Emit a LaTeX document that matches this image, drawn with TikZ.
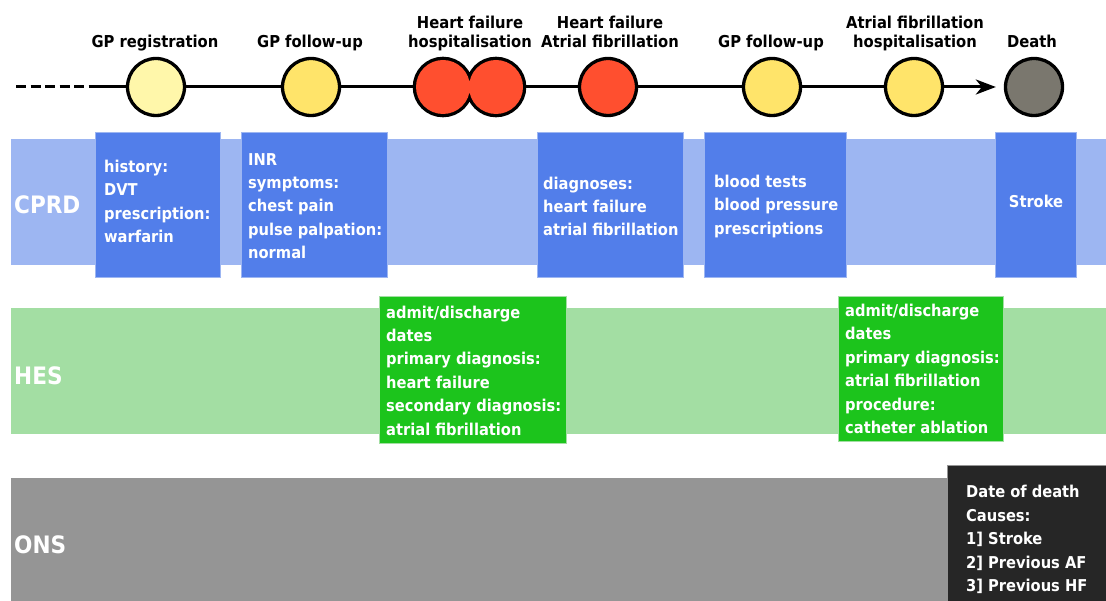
\documentclass[tikz,border=0pt]{standalone}
\usepackage{fontspec}
\setmainfont{DejaVu Sans Condensed}
\usetikzlibrary{arrows.meta}
\definecolor{bandblue}{HTML}{9DB6F2}
\definecolor{boxblue}{HTML}{527EEA}
\definecolor{bandgreen}{HTML}{A3DEA3}
\definecolor{boxgreen}{HTML}{1CC41C}
\definecolor{bandgray}{HTML}{959595}
\definecolor{boxdark}{HTML}{262626}
\definecolor{paleyel}{HTML}{FFF7AA}
\definecolor{yel}{HTML}{FFE46A}
\definecolor{evred}{HTML}{FF4F2F}
\definecolor{deathgray}{HTML}{7A776E}
\newcommand\myboxfont{\bfseries\fontsize{16.3}{23.4}\selectfont}
\newcommand\mylblfont{\bfseries\fontsize{16.4}{19.5}\selectfont}
\newcommand\mybandfont{\bfseries\fontsize{24}{28}\selectfont}
\tikzset{
  ev/.style={circle, draw=black, line width=3.3pt, minimum size=57pt, inner sep=0pt},
  evghost/.style={circle, minimum size=57pt, inner sep=0pt},
  tl/.style={line width=3pt, black},
  toplbl/.style={font=\mylblfont, align=center, anchor=base, inner sep=0pt},
  bandlbl/.style={font=\mybandfont, text=white, anchor=west, inner sep=0pt},
  databox/.style={rectangle, anchor=north west, line width=1pt, minimum height=145pt},
  bluebox/.style={databox, fill=boxblue, draw=bandblue},
  greenbox/.style={databox, fill=boxgreen, draw=bandgreen, minimum height=147pt},
  darkbox/.style={databox, fill=boxdark, draw=bandgray, minimum height=148pt},
  boxtext/.style={anchor=west, align=left, text=white, font=\myboxfont, inner sep=0pt}
}
\begin{document}
\begin{tikzpicture}[x=1pt,y=-1pt]
\clip (0,0) rectangle (1106,601);
\fill[white] (0,0) rectangle (1106,601);

% bands
\fill[bandblue] (11,139) rectangle (1106,265);
\fill[bandgreen] (11,308) rectangle (1106,434);
\fill[bandgray] (11,478) rectangle (1106,601);
\node[bandlbl] (tcprd) at (14,205) {CPRD};
\node[bandlbl] (thes) at (14,376) {HES};
\node[bandlbl] (tons) at (14,545) {ONS};

% CPRD boxes
\node[bluebox, minimum width=125pt] (b1) at (95,132) {};
\node[boxtext] (t1) at ([xshift=9pt,yshift=3.5pt]b1.west) {history:\\DVT\\prescription:\\warfarin};
\node[bluebox, minimum width=146pt] (b2) at (241,132) {};
\node[boxtext] (t2) at ([xshift=7pt,yshift=-1pt]b2.west) {INR\\symptoms:\\chest pain\\pulse palpation:\\normal};
\node[bluebox, minimum width=146pt] (b3) at (537,132) {};
\node[boxtext] (t3) at ([xshift=6pt,yshift=-1.5pt]b3.west) {diagnoses:\\heart failure\\atrial fibrillation};
\node[bluebox, minimum width=142pt] (b4) at (704,132) {};
\node[boxtext] (t4) at ([xshift=10pt,yshift=-1.5pt]b4.west) {blood tests\\blood pressure\\prescriptions};
\node[bluebox, minimum width=81pt] (b5) at (995,132) {};
\node[boxtext, anchor=center] (t5) at ([yshift=3.5pt]b5.center) {Stroke};

% HES boxes
\node[greenbox, minimum width=187pt] (g1) at (379,296) {};
\node[boxtext] (tg1) at ([xshift=7pt,yshift=-0.5pt]g1.west) {admit/discharge\\dates\\primary diagnosis:\\heart failure\\secondary diagnosis:\\atrial fibrillation};
\node[greenbox, minimum width=165pt, minimum height=145pt] (g2) at (838,296) {};
\node[boxtext] (tg2) at ([xshift=7pt]g2.west) {admit/discharge\\dates\\primary diagnosis:\\atrial fibrillation\\procedure:\\catheter ablation};

% ONS box
\node[darkbox, minimum width=165pt] (d1) at (947,465) {};
\node[boxtext] (td1) at ([xshift=19pt]d1.west) {Date of death\\Causes:\\1] Stroke\\2] Previous AF\\3] Previous HF};

% timeline events
\coordinate (s0) at (16,87);
\coordinate (s1) at (90,87);
\node[ev, fill=paleyel] (c1) at (156,87) {};
\node[ev, fill=yel] (c2) at (311,87) {};
\node[evghost] (hf1) at (443,87) {};
\node[evghost] (hf2) at (496,87) {};
\draw[line width=6.6pt] (hf1.center) circle (27) (hf2.center) circle (27);
\fill[evred] (hf1.center) circle (27) (hf2.center) circle (27);
\node[ev, fill=evred] (c4) at (608,87) {};
\node[ev, fill=yel] (c5) at (772,87) {};
\node[ev, fill=yel] (c6) at (914,87) {};
\node[ev, fill=deathgray] (death) at (1034,87) {};

\draw[tl, dash pattern=on 10pt off 4.5pt] (s0) -- (s1);
\draw[tl] (s1) -- (c1);
\draw[tl] (c1) -- (c2);
\draw[tl] (c2) -- (hf1);
\draw[tl] (hf2) -- (c4);
\draw[tl] (c4) -- (c5);
\draw[tl] (c5) -- (c6);
\draw[tl, -{Stealth[length=20pt,width=15pt,inset=6pt]}, shorten >=8pt] (c6) -- (death);

% top labels
\node[toplbl] (l1) at (155,48) {GP registration};
\node[toplbl] (l2) at (310,48) {GP follow-up};
\node[toplbl] (l3) at (470,48) {Heart failure\\hospitalisation};
\node[toplbl] (l4) at (610,48) {Heart failure\\Atrial fibrillation};
\node[toplbl] (l5) at (771,48) {GP follow-up};
\node[toplbl] (l6) at (915,48) {Atrial fibrillation\\hospitalisation};
\node[toplbl] (l7) at (1032,48) {Death};
\end{tikzpicture}
\end{document}
